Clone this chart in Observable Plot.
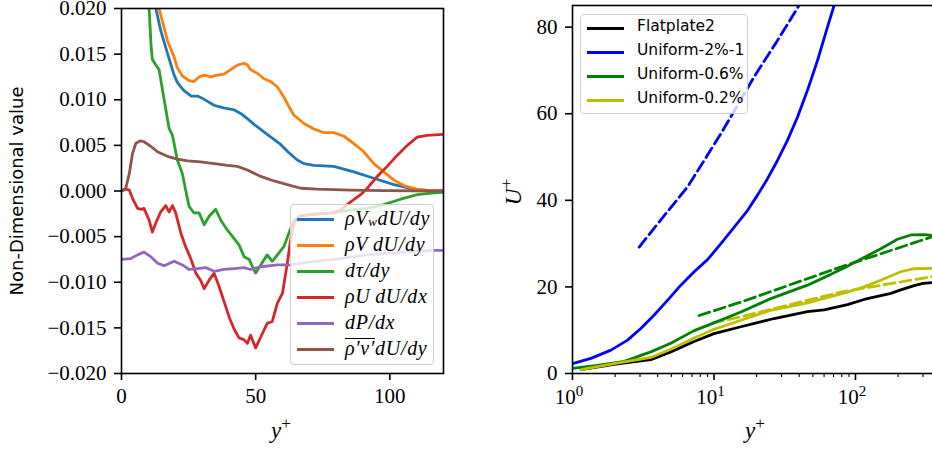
<!DOCTYPE html>
<html><head><meta charset="utf-8">
<script src="https://cdn.jsdelivr.net/npm/d3@7"></script>
<script src="https://cdn.jsdelivr.net/npm/@observablehq/plot@0.6"></script>
<style>
body{margin:0;background:#fff;}
#wrap{position:relative;width:932px;height:449px;overflow:hidden;font-family:"Liberation Serif",serif;color:#000;}
#wrap svg{position:absolute;top:0;}
.lab{position:absolute;white-space:nowrap;line-height:1;}
.sup{font-size:75%;position:relative;top:-0.5em;}
.leg{position:absolute;background:rgba(255,255,255,0.8);border:1px solid #cfcfcf;border-radius:4px;box-sizing:border-box;}
.row{position:absolute;white-space:nowrap;line-height:1;}
.smp{position:absolute;height:3px;}
.math{font-family:"Liberation Serif",serif;font-style:italic;font-size:20px;letter-spacing:0.7px;}
.sans{font-family:"DejaVu Sans",sans-serif;font-size:15.5px;}
.ovl{display:inline-block;border-top:1.2px solid #000;line-height:0.85;padding-top:1px;}
</style></head><body><div id="wrap"></div>
<script>
// ---------- Left panel data: [y+, value] ----------
const rhoVwdUdy = [[9,0.026],[11,0.0225],[12.8,0.0200],[14.6,0.0176],[17.1,0.0151],[19.6,0.0127],[20.8,0.0119],[22.1,0.0114],[23.3,0.0110],[26.0,0.0104],[28.3,0.0104],[30.5,0.0101],[34.5,0.0094],[38.0,0.0091],[41.9,0.0089],[44.4,0.0085],[47.0,0.0079],[49.4,0.0073],[54.3,0.0062],[59.3,0.0051],[62.0,0.0043],[65.5,0.0034],[68.0,0.0030],[71.7,0.0028],[79.1,0.0027],[86.6,0.0021],[94.0,0.0014],[101.5,0.0007],[108.9,0.0002],[114.0,0.00005],[120,0]];
const rhoVdUdy = [[10,0.025],[12,0.0225],[14.0,0.0200],[17.1,0.0165],[19.6,0.0147],[20.8,0.0135],[22.7,0.0126],[25.2,0.0121],[27.0,0.0120],[28.9,0.0125],[30.8,0.0127],[33.3,0.0125],[35.7,0.0127],[38.2,0.0128],[40.7,0.0133],[43.2,0.0138],[45.7,0.0140],[47.0,0.0138],[48.1,0.0133],[50.6,0.0129],[53.1,0.0123],[55.6,0.0120],[58.1,0.0114],[60.5,0.0103],[62.5,0.0092],[64.3,0.0083],[68,0.0074],[71.7,0.0068],[75.4,0.0064],[79.2,0.0064],[82.9,0.0060],[86.6,0.0052],[90.3,0.0043],[94.0,0.0030],[97.8,0.0021],[101.5,0.0012],[105.2,0.0006],[110.2,0.0002],[115,0.00003],[120,0]];
const dTaudy = [[8.5,0.030],[9.5,0.024],[10.3,0.0200],[11.0,0.0160],[11.5,0.0144],[12.8,0.0138],[14.0,0.0133],[15.9,0.0100],[17.7,0.0069],[19.0,0.0061],[20.8,0.0034],[22.7,0.0019],[23.9,0.0001],[25.2,-0.0017],[27.0,-0.0024],[28.9,-0.0024],[30.8,-0.0037],[32.6,-0.0028],[35.1,-0.0020],[37.0,-0.0032],[39.5,-0.0043],[41.9,-0.0052],[43.8,-0.0059],[45.7,-0.0072],[47.6,-0.0075],[48.8,-0.0083],[50.0,-0.0090],[51.9,-0.0081],[54.3,-0.0070],[56.2,-0.0077],[58.1,-0.0070],[60.5,-0.0061],[62.4,-0.0046],[64.3,-0.0032],[66.8,-0.0027],[71.7,-0.0026],[79.2,-0.0024],[85.4,-0.0021],[91.6,-0.0019],[97.8,-0.0015],[104.0,-0.0009],[110.2,-0.0004],[116.4,-0.0002],[120,-0.00015]];
const rhoUdUdx = [[0,0],[1.6,0.0002],[2.9,0.0001],[4.1,-0.0008],[6.0,-0.0019],[7.2,-0.0020],[8.4,-0.0019],[10.3,-0.0032],[11.5,-0.0045],[12.8,-0.0035],[14.6,-0.0023],[16.5,-0.0016],[17.7,-0.0023],[19.0,-0.0016],[20.2,-0.0024],[22.1,-0.0046],[23.9,-0.0061],[25.8,-0.0074],[27.7,-0.0090],[29.5,-0.0098],[30.8,-0.0107],[32.6,-0.0098],[34.5,-0.0090],[36.4,-0.0105],[38.2,-0.0121],[40.1,-0.0138],[41.9,-0.0151],[43.8,-0.0161],[45.7,-0.0163],[46.9,-0.0167],[48.1,-0.0158],[50.0,-0.0172],[51.9,-0.0160],[54.3,-0.0145],[56.2,-0.0143],[58.1,-0.0123],[60.0,-0.0112],[61.8,-0.0079],[63.0,-0.0054],[64.3,-0.0035],[66.1,-0.0028],[69.2,-0.0026],[73.0,-0.0025],[77.9,-0.0024],[81.6,-0.0021],[85.4,-0.0012],[89.1,-0.0004],[91.6,0.0003],[95.3,0.0016],[99.0,0.0027],[102.7,0.0039],[106.5,0.0050],[110.2,0.0059],[113.9,0.0061],[120,0.0062]];
const dPdx = [[0,-0.0075],[3.5,-0.0074],[6.0,-0.0070],[8.4,-0.0067],[10.9,-0.0072],[13.4,-0.0079],[15.9,-0.0082],[19.6,-0.0077],[22.7,-0.0081],[25.2,-0.0086],[28.3,-0.0085],[31.4,-0.0084],[34.5,-0.0088],[38.2,-0.0086],[41.9,-0.0085],[45.7,-0.0084],[48.1,-0.0086],[51.9,-0.0083],[58.1,-0.0081],[63.0,-0.0081],[70,-0.0078],[79.2,-0.0075],[91.6,-0.0070],[104.0,-0.0067],[116.4,-0.0065],[120,-0.0065]];
const rhovdUdy = [[0,0],[1.6,0.0003],[2.9,0.0019],[4.1,0.0041],[5.3,0.0052],[6.9,0.0055],[8.4,0.0054],[10.9,0.0049],[13.4,0.0043],[17.1,0.0038],[20.8,0.0035],[24.6,0.0033],[29.5,0.0032],[34.5,0.0030],[39.5,0.0028],[43.2,0.0027],[46.9,0.0023],[51.9,0.0016],[56.8,0.0011],[61.8,0.0007],[66.8,0.0003],[73.0,0.0002],[85.4,0.0001],[97.8,0.00004],[120,0]];
const leftColors = ["#1f77b4","#ff7f0e","#2ca02c","#d62728","#9467bd","#8c564b"];
const leftLabels = [
  '<i>ρV<sub style="font-size:65%;position:relative;top:0.1em;vertical-align:baseline">w</sub>dU</i>/<i>dy</i>',
  '<i>ρV&#8201;dU</i>/<i>dy</i>',
  '<i>dτ</i>/<i>dy</i>',
  '<i>ρU&#8201;dU</i>/<i>dx</i>',
  '<i>dP</i>/<i>dx</i>',
  '<i><span class="ovl">ρ′v′</span>dU</i>/<i>dy</i>'
];
const leftYTicks = [-0.02,-0.015,-0.01,-0.005,0,0.005,0.01,0.015,0.02];
const leftXTicks = [0,50,100];

// ---------- Right panel data: [y+, U+] ----------
const flatplate2 = [[1.15,0.9],[1.97,2.1],[3.04,2.9],[3.58,3.2],[4.95,5.0],[7.24,7.4],[10,9.2],[15.5,10.8],[26.6,12.7],[45.8,14.3],[60,14.7],[87.8,15.9],[115,17.1],[178,18.5],[209,19.3],[260,20.3],[300,20.8],[350,21.0]];
const uniform2 = [[1,2.3],[1.35,3.5],[1.87,5.4],[2.45,7.7],[3.04,10.4],[3.78,13.5],[4.69,16.9],[5.83,20.4],[7.24,23.5],[9.0,26.3],[11.2,30.0],[13.9,33.8],[17.3,37.7],[20.3,41.2],[23.9,45.0],[28.1,49.2],[33.0,53.8],[38.9,59.2],[45.8,65.4],[53.9,72.3],[63.4,80],[70.6,85],[75,88]];
const uniform2Fit = [[2.96,29.2],[3.78,33.6],[6.5,43.1],[11.2,55.4],[19.2,68.5],[28.1,76.9],[37.9,83.8],[45,88]];
const uniform06 = [[1,1.2],[1.5,1.9],[2.32,2.8],[3.58,5.0],[4.95,7.0],[7.24,9.9],[10,11.7],[15.5,14.2],[25.2,17.3],[45.8,20.4],[67,22.9],[87.8,24.8],[115,26.8],[151,28.8],[198,31.0],[246,32.0],[306,32.1],[350,31.9]];
const uniform06Fit = [[7.85,13.4],[15.5,16.5],[78.7,24.6],[350,31.6]];
const uniform02 = [[1.15,0.9],[1.97,2.3],[3.04,3.3],[3.58,3.7],[4.95,5.6],[7.24,8.2],[10,10.2],[15.5,12.3],[25.2,14.6],[45.8,16.3],[87.8,18.8],[115,20.0],[160,21.9],[209,23.5],[260,24.2],[350,24.3]];
const uniform02Fit = [[9.76,11.7],[15.5,13.1],[78.7,18.8],[350,22.4]];
const rightNames = ["Flatplate2","Uniform-2%-1","Uniform-0.6%","Uniform-0.2%"];
const rightColors = ["#000000","#0000ff","#008000","#bfbf00"];
const rightYTicks = [0,20,40,60,80];
const rightXMajor = [1,10,100];
const rightXMinor = [2,3,4,5,6,7,8,9,20,30,40,50,60,70,80,90,200,300];

const wrap = document.getElementById("wrap");
const toRows = (arr) => arr.map(([x,y]) => ({x,y}));
const axisStyle = {fontFamily:"Liberation Serif, serif", fontSize:"21px", color:"black", background:"none", overflow:"visible"};
const LW = 2.8;
const DASH = "11,5";
const FW = 1.6;

// ---------- Left plot ----------
const leftSeries = [rhoVwdUdy, rhoVdUdy, dTaudy, rhoUdUdx, dPdx, rhovdUdy];
const L = Plot.plot({
  width: 460, height: 449,
  marginLeft: 121, marginRight: 17, marginTop: 8, marginBottom: 76,
  style: axisStyle,
  x: {domain:[0,120]},
  y: {domain:[-0.02,0.02]},
  marks: [
    ...leftSeries.map((s,i) => Plot.line(toRows(s), {x:"x", y:"y", stroke:leftColors[i], strokeWidth:LW, strokeLinejoin:"round", clip:true})),
    Plot.frame({stroke:"black", strokeWidth:FW}),
    Plot.axisX({ticks:leftXTicks, tickSize:7, tickPadding:8, label:null, stroke:"black", strokeWidth:FW, fontSize:21}),
    Plot.axisY({ticks:leftYTicks, tickFormat:d3.format(".3f"), tickSize:7, tickPadding:8, label:null, stroke:"black", strokeWidth:FW, fontSize:21})
  ]
});
L.style.left = "0px";
wrap.appendChild(L);

// ---------- Right plot ----------
const R = Plot.plot({
  width: 460, height: 449,
  marginLeft: 92, marginRight: 0, marginTop: 5, marginBottom: 76,
  style: axisStyle,
  x: {type:"log", domain:[1,399]},
  y: {domain:[0,85]},
  marks: [
    Plot.line(toRows(uniform2Fit), {x:"x", y:"y", stroke:rightColors[1], strokeWidth:LW, strokeDasharray:DASH, clip:true}),
    Plot.line(toRows(uniform06Fit), {x:"x", y:"y", stroke:rightColors[2], strokeWidth:LW, strokeDasharray:DASH, clip:true}),
    Plot.line(toRows(uniform02Fit), {x:"x", y:"y", stroke:rightColors[3], strokeWidth:LW, strokeDasharray:DASH, clip:true}),
    Plot.line(toRows(flatplate2), {x:"x", y:"y", stroke:rightColors[0], strokeWidth:LW, clip:true}),
    Plot.line(toRows(uniform2), {x:"x", y:"y", stroke:rightColors[1], strokeWidth:LW, clip:true}),
    Plot.line(toRows(uniform06), {x:"x", y:"y", stroke:rightColors[2], strokeWidth:LW, clip:true}),
    Plot.line(toRows(uniform02), {x:"x", y:"y", stroke:rightColors[3], strokeWidth:LW, clip:true}),
    Plot.frame({stroke:"black", strokeWidth:FW}),
    Plot.axisX({ticks:rightXMajor, tickSize:7, tickFormat:() => "", label:null, stroke:"black", strokeWidth:FW}),
    Plot.axisX({ticks:rightXMinor, tickSize:4, tickFormat:() => "", label:null, stroke:"black", strokeWidth:1.1}),
    Plot.axisY({ticks:rightYTicks, tickSize:7, tickPadding:8, label:null, stroke:"black", strokeWidth:FW, fontSize:21})
  ]
});
R.style.left = "480px";
wrap.appendChild(R);

// ---------- overlay text helpers ----------
function label(html, cx, cy, extra) {
  const d = document.createElement("div");
  d.className = "lab";
  d.innerHTML = html;
  d.style.left = cx + "px"; d.style.top = cy + "px";
  d.style.transform = "translate(-50%,-50%)" + (extra||"");
  wrap.appendChild(d);
  return d;
}
// log tick labels via the plot's x scale
const rx = R.scale("x");
rightXMajor.forEach((v,k) => {
  const d = label('10<span class="sup" style="font-size:72%">' + k + '</span>', 480 + rx.apply(v) - 3, 397);
  d.style.fontSize = "21px";
});
// axis titles
let t;
t = label('<i>y</i><span class="sup">+</span>', 281, 430); t.style.fontSize = "23px";
t = label('<i>y</i><span class="sup">+</span>', 755, 430); t.style.fontSize = "23px";
t = label('Non-Dimensional value', 17, 191, " rotate(-90deg)");
t.style.fontFamily = '"DejaVu Sans", sans-serif'; t.style.fontSize = "18px";
t = label('<i>U</i><span class="sup">+</span>', 513, 192, " rotate(-90deg)"); t.style.fontSize = "23px";

// ---------- legends ----------
function legend(box, rows, colors, rowY, sx0, sx1, tx, cls) {
  const b = document.createElement("div");
  b.className = "leg";
  Object.assign(b.style, {left:box[0]+"px", top:box[1]+"px", width:box[2]+"px", height:box[3]+"px"});
  rows.forEach((html,i) => {
    const s = document.createElement("div");
    s.className = "smp";
    Object.assign(s.style, {left:sx0+"px", width:(sx1-sx0)+"px", top:(rowY[i]-1.5)+"px", background:colors[i]});
    b.appendChild(s);
    const r = document.createElement("div");
    r.className = "row " + cls;
    r.innerHTML = html;
    Object.assign(r.style, {left:tx+"px", top:rowY[i]+"px", transform:"translateY(-55%)"});
    b.appendChild(r);
  });
  wrap.appendChild(b);
}
legend([290,204,144,161], leftLabels, leftColors, [14,40,66,92,118,144], 6, 43, 54, "math");
legend([580,14,168,100], rightNames, rightColors, [13,37,61,85], 6, 43, 56, "sans");
</script></body></html>
